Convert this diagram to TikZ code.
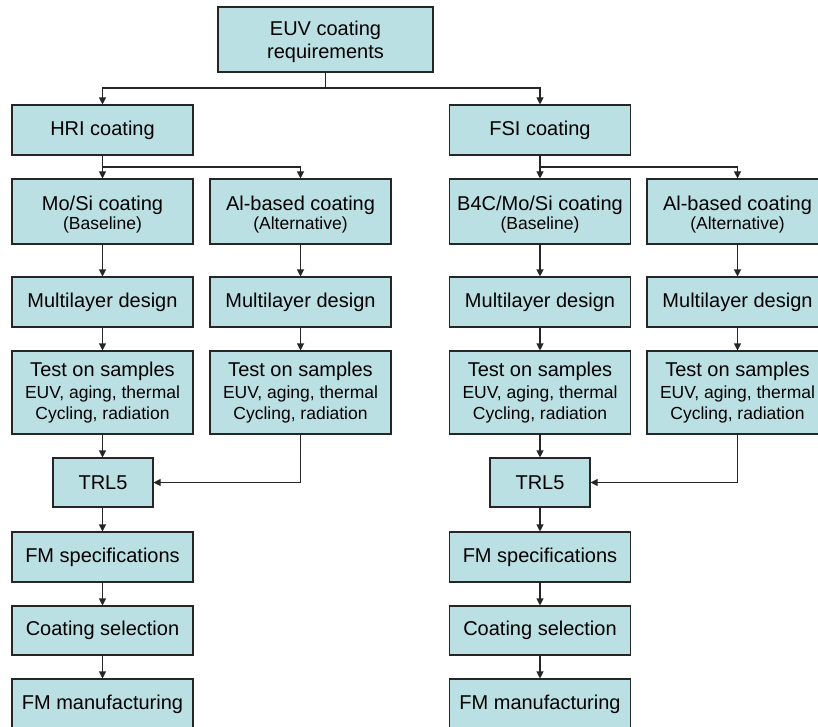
\documentclass[tikz,border=0pt]{standalone}
\usepackage{fontspec}
\setmainfont{Liberation Sans}
\usetikzlibrary{arrows.meta}
\definecolor{boxfill}{HTML}{BBE0E3}
\definecolor{linec}{HTML}{262626}
\newcommand{\bigtxt}{\fontsize{20}{23}\selectfont}
\newcommand{\smltxt}{\fontsize{17.5}{20}\selectfont}
\newcommand{\upstrut}{\rule{0pt}{20pt}}
\tikzset{
  box/.style={draw=linec, line width=1.1pt, fill=boxfill, rectangle, align=center,
    inner sep=0pt, minimum width=181pt, minimum height=50pt, font=\bigtxt},
  arr/.style={draw=linec, line width=1.1pt, -{Triangle[length=7pt,width=7pt]}},
  ln/.style={draw=linec, line width=1.1pt}
}
\begin{document}
\begin{tikzpicture}[x=1pt,y=1pt]
\useasboundingbox (0,0) rectangle (818,-727);
% top
\node[box, minimum width=215pt, minimum height=65pt] (euv) at (325.5,-39.5) {\upstrut EUV coating\\requirements};
\node[box] (hri) at (102.5,-130) {HRI coating};
\node[box] (fsi) at (540,-130) {FSI coating};
% row 3
\node[box, minimum height=65pt] (mosi) at (102.5,-211.5) {\upstrut Mo/Si coating\\[-4pt]{\smltxt (Baseline)}};
\node[box, minimum height=65pt] (ala) at (300.5,-211.5) {\upstrut Al-based coating\\[-4pt]{\smltxt (Alternative)}};
\node[box, minimum height=65pt] (b4c) at (540,-211.5) {\upstrut B4C/Mo/Si coating\\[-4pt]{\smltxt (Baseline)}};
\node[box, minimum height=65pt] (alb) at (737.5,-211.5) {\upstrut Al-based coating\\[-4pt]{\smltxt (Alternative)}};
% row 4
\node[box] (mla) at (102.5,-302) {Multilayer design};
\node[box] (mlb) at (300.5,-302) {Multilayer design};
\node[box] (mlc) at (540,-302) {Multilayer design};
\node[box] (mld) at (737.5,-302) {Multilayer design};
% row 5
\node[box, minimum height=83pt] (tsa) at (102.5,-392.5) {Test on samples\\[-1pt]{\smltxt EUV, aging, thermal}\\[-2pt]{\smltxt Cycling, radiation}};
\node[box, minimum height=83pt] (tsb) at (300.5,-392.5) {Test on samples\\[-1pt]{\smltxt EUV, aging, thermal}\\[-2pt]{\smltxt Cycling, radiation}};
\node[box, minimum height=83pt] (tsc) at (540,-392.5) {Test on samples\\[-1pt]{\smltxt EUV, aging, thermal}\\[-2pt]{\smltxt Cycling, radiation}};
\node[box, minimum height=83pt] (tsd) at (737.5,-392.5) {Test on samples\\[-1pt]{\smltxt EUV, aging, thermal}\\[-2pt]{\smltxt Cycling, radiation}};
% TRL5
\node[box, minimum width=100pt, minimum height=49pt] (trla) at (103,-482.5) {TRL5};
\node[box, minimum width=100pt, minimum height=49pt] (trlb) at (540,-482.5) {TRL5};
% bottom rows
\node[box] (fsa) at (102.5,-557) {FM specifications};
\node[box] (fsb) at (540,-557) {FM specifications};
\node[box, minimum height=49pt] (csa) at (102.5,-630.5) {Coating selection};
\node[box, minimum height=49pt] (csb) at (540,-630.5) {Coating selection};
\node[box] (fma) at (102.5,-704) {FM manufacturing};
\node[box] (fmb) at (540,-704) {FM manufacturing};
% junctions
\coordinate (j1) at (325.5,-88);
\coordinate (j2) at (102.5,-167);
\coordinate (j3) at (540,-167);
\draw[ln] (euv.south) -- (j1);
\draw[arr] (j1) -| (hri.north);
\draw[arr] (j1) -| (fsi.north);
\draw[arr] (hri.south) -- (mosi.north);
\draw[arr] (j2) -| (ala.north);
\draw[arr] (fsi.south) -- (b4c.north);
\draw[arr] (j3) -| (alb.north);
% chains
\draw[arr] (mosi) -- (mla);
\draw[arr] (ala) -- (mlb);
\draw[arr] (b4c) -- (mlc);
\draw[arr] (alb) -- (mld);
\draw[arr] (mla) -- (tsa);
\draw[arr] (mlb) -- (tsb);
\draw[arr] (mlc) -- (tsc);
\draw[arr] (mld) -- (tsd);
\draw[arr] (tsa.south) -- (tsa.south |- trla.north);
\draw[arr] (tsc.south) -- (tsc.south |- trlb.north);
\draw[arr] (tsb.south) |- (trla.east);
\draw[arr] (tsd.south) |- (trlb.east);
\draw[arr] (trla.south -| fsa.north) -- (fsa.north);
\draw[arr] (trlb.south -| fsb.north) -- (fsb.north);
\draw[arr] (fsa) -- (csa);
\draw[arr] (fsb) -- (csb);
\draw[arr] (csa) -- (fma);
\draw[arr] (csb) -- (fmb);
\end{tikzpicture}
\end{document}
